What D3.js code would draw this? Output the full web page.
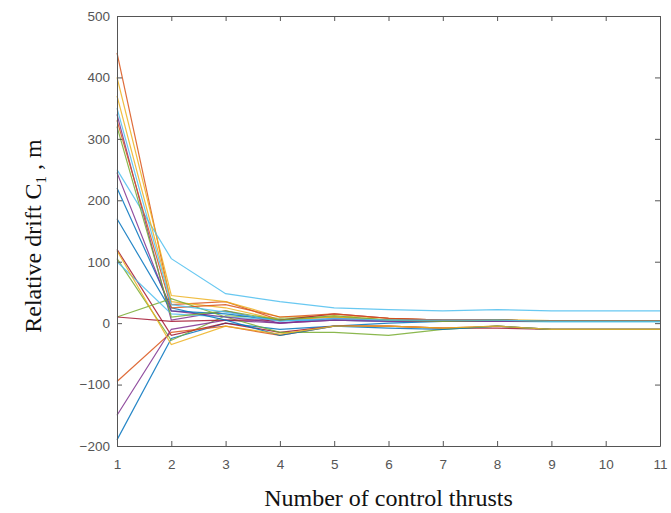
<!DOCTYPE html>
<html>
<head>
<meta charset="utf-8">
<script src="https://cdn.jsdelivr.net/npm/d3@7"></script>
<style>
  body { margin: 0; background: #fff; }
  .tick text { font-family: "Liberation Sans", Arial, sans-serif; font-size: 13.5px; fill: #555; }
  .lbl { font-family: "Liberation Serif", "Times New Roman", serif; font-size: 24px; fill: #111; }
</style>
</head>
<body>
<svg></svg>
<script>
let thrusts = [1, 2, 3, 4, 5, 6, 7, 8, 9, 10, 11]
let xTicks = [1, 2, 3, 4, 5, 6, 7, 8, 9, 10, 11]
let yTicks = [-200, -100, 0, 100, 200, 300, 400, 500]

// each run, drift C1 after each thrust
let run1 = [-190, -25, 0, -10, -5, 0, 3, 3, 3, 3, 3]
let run2 = [440, 30, 35, 5, 10, 5, 3, 5, 3, 3, 3]
let run3 = [400, 45, 35, 10, 12, 8, 5, 5, 4, 4, 4]
let run4 = [340, 5, 20, 0, 8, 5, 5, 5, 3, 3, 3]
let run5 = [105, -28, 12, 8, 10, 5, 3, 3, 3, 3, 3]
let run6 = [250, 105, 48, 35, 25, 22, 20, 22, 20, 20, 20]
let run7 = [120, -20, 0, -15, -5, -5, -8, -8, -10, -10, -10]
let run8 = [170, 20, 15, 5, 5, 5, 3, 5, 3, 3, 3]
let run9 = [-95, -15, -5, -20, -5, -5, -8, -5, -10, -10, -10]
let run10 = [370, 35, 25, 5, 10, 5, 5, 5, 4, 4, 4]
let run11 = [-150, -10, 5, 0, 5, 3, 3, 3, 3, 3, 3]
let run12 = [10, 40, 10, -15, -15, -20, -10, -5, -10, -10, -10]
let run13 = [100, 15, 10, 5, 5, 3, 3, 3, 2, 2, 2]
let run14 = [10, 3, 5, 5, 15, 8, 5, 5, 3, 3, 3]
let run15 = [220, 25, 5, -20, -5, -8, -10, -5, -10, -10, -10]
let run16 = [330, 25, 30, 10, 15, 8, 5, 5, 3, 3, 3]
let run17 = [118, -35, -5, -18, -5, -5, -8, -5, -10, -10, -10]
let run18 = [245, 20, 10, 0, 5, 3, 3, 3, 3, 3, 3]
let run19 = [320, 10, 20, 5, 12, 5, 3, 5, 3, 3, 3]
let run20 = [350, 30, 18, 3, 8, 5, 5, 5, 3, 3, 3]

let runs = [run1, run2, run3, run4, run5, run6, run7, run8, run9, run10,
            run11, run12, run13, run14, run15, run16, run17, run18, run19, run20]
let colors = ['#0072BD', '#D95319', '#EDB120', '#7E2F8E', '#77AC30', '#4DBEEE', '#A2142F']

let width = 671
let height = 513
let padLeft = 117
let padRight = 660
let padTop = 16
let padBottom = 446
let svg = d3.select('svg').attr('width', width).attr('height', height)

let xScale = d3.scaleLinear().domain([1, 11]).range([padLeft, padRight])
let yScale = d3.scaleLinear().domain([-200, 500]).range([padBottom, padTop])

let line = d3.line()
    .x((d, i) => xScale(thrusts[i]))
    .y((d) => yScale(d))

svg.selectAll('path.run')
    .data(runs)
    .enter()
    .append('path')
    .attr('class', 'run')
    .attr('d', (d) => line(d))
    .attr('fill', 'none')
    .attr('stroke', (d, i) => colors[i % colors.length])
    .attr('stroke-width', 1.2)
    .attr('stroke-opacity', 0.85)

let axisColor = '#555'
let styleAxis = (g) => {
    g.select('.domain').attr('stroke', axisColor)
    g.selectAll('.tick line').attr('stroke', axisColor)
}

// bottom and left, ticks pointing inward
svg.append('g')
    .attr('transform', 'translate(0,' + padBottom + ')')
    .call(d3.axisBottom(xScale).tickValues(xTicks).tickSize(-5).tickSizeOuter(0).tickPadding(13))
    .call(styleAxis)
svg.append('g')
    .attr('transform', 'translate(' + padLeft + ',0)')
    .call(d3.axisLeft(yScale).tickValues(yTicks).tickSize(-5).tickSizeOuter(0).tickPadding(7))
    .call(styleAxis)
// top and right box
svg.append('g')
    .attr('transform', 'translate(0,' + padTop + ')')
    .call(d3.axisTop(xScale).tickValues(xTicks).tickSize(-5).tickSizeOuter(0).tickFormat(''))
    .call(styleAxis)
svg.append('g')
    .attr('transform', 'translate(' + padRight + ',0)')
    .call(d3.axisRight(yScale).tickValues(yTicks).tickSize(-5).tickSizeOuter(0).tickFormat(''))
    .call(styleAxis)

svg.append('text')
    .attr('class', 'lbl')
    .attr('x', (padLeft + padRight) / 2)
    .attr('y', 506)
    .attr('text-anchor', 'middle')
    .text('Number of control thrusts')

let yl = svg.append('text')
    .attr('class', 'lbl')
    .attr('transform', 'translate(41,' + 236 + ') rotate(-90)')
    .attr('text-anchor', 'middle')
yl.append('tspan').text('Relative drift C')
yl.append('tspan').attr('font-size', 15).attr('dy', 5).text('1')
yl.append('tspan').attr('dy', -5).text(' , m')
</script>
</body>
</html>
